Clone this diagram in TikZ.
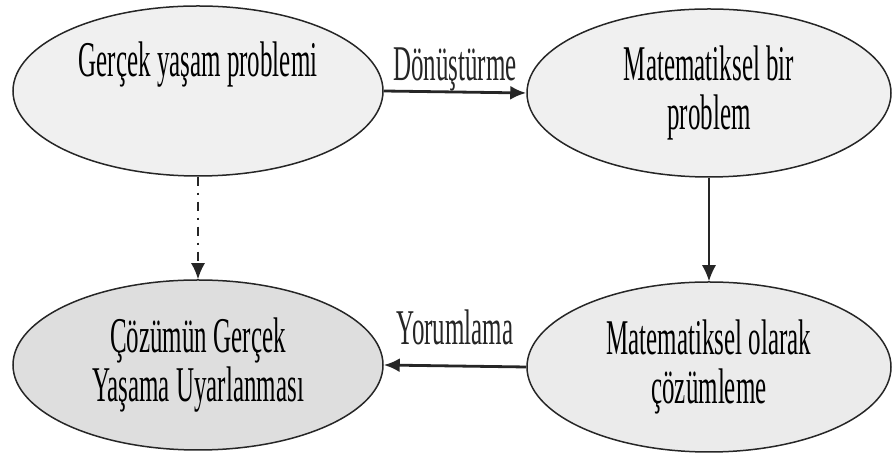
\documentclass[tikz,border=0pt]{standalone}
\usepackage{fontspec}
\setmainfont[FakeStretch=0.5]{Liberation Serif}
\usetikzlibrary{positioning,shapes,arrows.meta}
\tikzstyle{oval}=[ellipse, draw=black!85, line width=1.5pt, minimum width=370pt, minimum height=170pt, inner sep=0pt, align=center, font=\fontsize{50}{49}\selectfont]
\tikzstyle{link}=[-{Latex[length=16pt,width=14pt]}, black!85]
\tikzstyle{tag}=[inner sep=0pt, font=\fontsize{50}{49}\selectfont]

\begin{document}
\begin{tikzpicture}[x=1pt,y=1pt]
        \useasboundingbox (0,0) rectangle (892,454);

        \node[oval, fill=black!6] (gy) at (198,363) {Gerçek yaşam problemi\\\strut};
        \node[oval, fill=black!6, minimum width=364pt, minimum height=168pt] (mb) at (709,361) {Matematiksel bir\\problem};
        \node[oval, fill=black!13] (cg) at (198,89) {Çözümün Gerçek\\Yaşama Uyarlanması};
        \node[oval, fill=black!8, minimum width=364pt] (mo) at (709,87) {Matematiksel olarak\\çözümleme};

        \draw[link, line width=2.8pt] (gy.east) -- node[tag, above=-1pt] (dn) {Dönüştürme} (mb.west);
        \draw[link, line width=1.4pt] (mb.south) -- (mo.north);
        \draw[link, line width=1.8pt, dash pattern=on 9pt off 7pt on 2pt off 7pt] (gy.south) -- (cg.north);
        \draw[link, line width=2.8pt] (mo.west) -- node[tag, above=20pt] (yr) {Yorumlama} (cg.east);
    \end{tikzpicture}
\end{document}
